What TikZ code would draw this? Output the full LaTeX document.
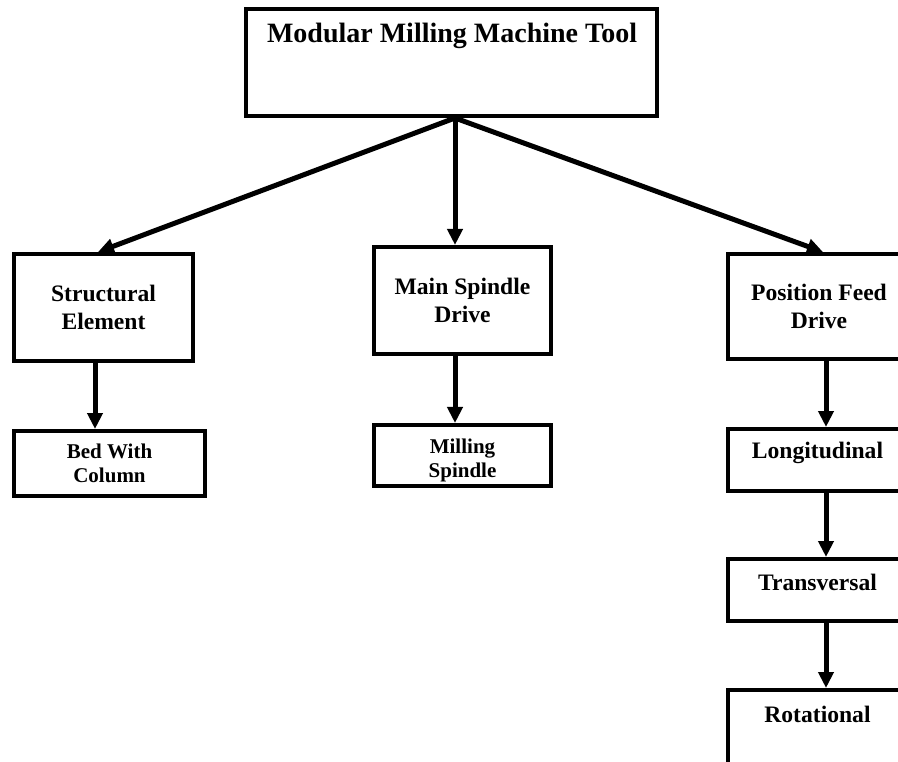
\documentclass[tikz,border=0pt]{standalone}
\usepackage{fontspec}
\setmainfont{Liberation Serif}
\usetikzlibrary{arrows.meta,calc}
\tikzset{
  box/.style={draw=black, line width=4pt, rectangle, inner sep=2pt, align=center, font=\bfseries\fontsize{23.6}{28}\selectfont},
  smallbox/.style={box, font=\bfseries\fontsize{21}{24}\selectfont},
  lbl/.style={inner sep=0pt, font=\bfseries\fontsize{23.6}{28}\selectfont},
  arr/.style={line width=5pt, -{Triangle[length=16pt,width=15pt]}}
}
\begin{document}
\begin{tikzpicture}[x=1pt,y=-1pt]
\useasboundingbox (0,0) rectangle (898,762);
\clip (0,0) rectangle (898,762);
\fill[white] (0,0) rectangle (898,762);
% boxes
\node[box, minimum width=411pt, minimum height=107pt] (top) at (451.5,62.5) {};
\node[lbl, anchor=base, font=\bfseries\fontsize{28}{32}\selectfont] (title) at (452,43) {Modular Milling Machine Tool};
\node[box, minimum width=179pt, minimum height=107pt] (se) at (103.5,307.5) {Structural\\Element};
\node[box, minimum width=177pt, minimum height=107pt] (msd) at (462.5,300.5) {Main Spindle\\Drive};
\node[box, minimum width=182pt, minimum height=105pt] (pfd) at (819,306.5) {Position Feed\\Drive};
\node[smallbox, minimum width=191pt, minimum height=65pt] (bed) at (109.5,463.5) {Bed With\\Column};
\node[smallbox, minimum width=177pt, minimum height=61pt] (mil) at (462.5,455.5) {};
\node[smallbox, draw=none, align=center] (mill) at (462.5,460) {Milling\\Spindle};
\node[box, minimum width=182pt, minimum height=62pt] (lon) at (819,460) {};
\node[box, minimum width=182pt, minimum height=62pt] (tra) at (819,590) {};
\node[box, minimum width=182pt, minimum height=130pt] (rot) at (819,755) {};
\node[lbl, anchor=base] (lonl) at (817.5,458) {Longitudinal};
\node[lbl, anchor=base] (tral) at (817.5,590) {Transversal};
\node[lbl, anchor=base] (rotl) at (817.5,722) {Rotational};
% connectors
\coordinate (hub) at ([xshift=3.5pt]top.south);
\draw[arr] (hub) -- ([xshift=-5.5pt]se.north);
\draw[arr] (hub) -- (hub |- msd.north);
\draw[arr] (hub) -- ([xshift=4pt]pfd.north);
\draw[arr] ([xshift=-8.5pt]se.south) -- ([xshift=-8.5pt]se.south |- bed.north);
\draw[arr] ([xshift=-7.5pt]msd.south) -- ([xshift=-7.5pt]msd.south |- mil.north);
\draw[arr] ([xshift=7pt]pfd.south) -- ([xshift=7pt]pfd.south |- lon.north);
\draw[arr] ([xshift=7pt]lon.south) -- ([xshift=7pt]lon.south |- tra.north);
\draw[arr] ([xshift=7pt]tra.south) -- ([xshift=7pt]tra.south |- rot.north);
\end{tikzpicture}
\end{document}
